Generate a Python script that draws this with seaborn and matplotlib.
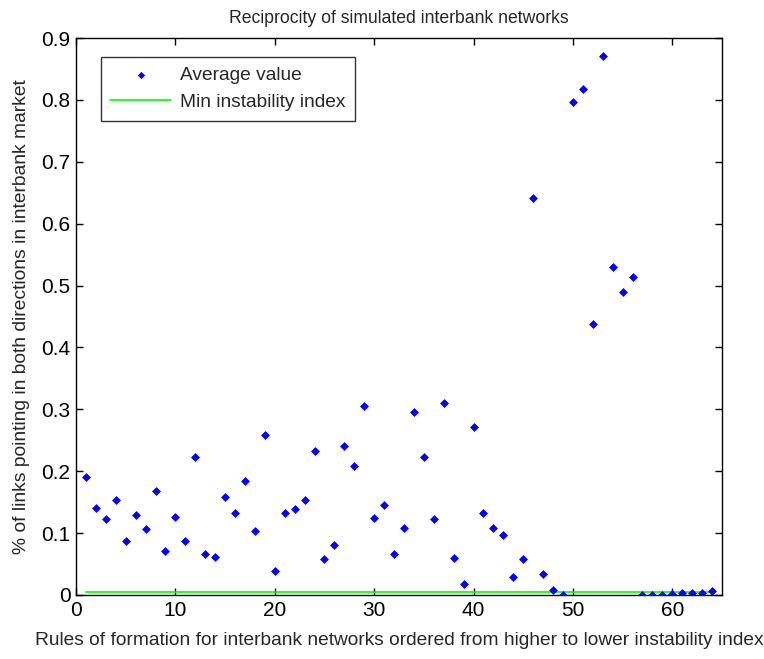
import matplotlib
matplotlib.use("Agg")
import matplotlib.pyplot as plt
import seaborn as sns
import numpy as np
import pandas as pd

rules = list(range(1, 65))
avg_value = [0.190, 0.141, 0.123, 0.154, 0.088, 0.130, 0.106, 0.168, 0.071, 0.126,
             0.088, 0.223, 0.066, 0.062, 0.159, 0.133, 0.185, 0.104, 0.258, 0.038,
             0.133, 0.139, 0.153, 0.232, 0.058, 0.080, 0.241, 0.208, 0.305, 0.124,
             0.146, 0.066, 0.109, 0.296, 0.223, 0.122, 0.311, 0.060, 0.018, 0.271,
             0.133, 0.108, 0.097, 0.029, 0.058, 0.642, 0.034, 0.008, 0.000, 0.796,
             0.817, 0.438, 0.871, 0.530, 0.490, 0.514, 0.000, 0.000, 0.000, 0.001,
             0.003, 0.003, 0.003, 0.006]
min_instability = [0.005] * 64

df = pd.DataFrame({"rule": rules, "avg": avg_value, "min": min_instability})

sns.set_theme(style="ticks")
plt.rcParams['font.family'] = ['Liberation Sans', 'DejaVu Sans']

fig = plt.figure(figsize=(7.64, 6.59), dpi=100)
ax = fig.add_axes([76/764, 1-595/659, (722-76)/764, (595-38)/659])

sns.scatterplot(data=df, x="rule", y="avg", ax=ax, marker="D", s=16,
                color="#0000ff", edgecolor="#0000ff", linewidth=0.5,
                label="Average value", zorder=3)
sns.lineplot(data=df, x="rule", y="min", ax=ax, color="#00ff00", linewidth=1.2,
             label="Min instability index", zorder=2)

ax.set_xlim(0, 65)
ax.set_ylim(0, 0.9)
ax.set_xticks(range(0, 61, 10))
ax.set_yticks(np.round(np.arange(0, 0.91, 0.1), 1))
ax.set_yticklabels(["0" if v == 0 else f"{v:.1f}" for v in np.arange(0, 0.91, 0.1)])
for s in ax.spines.values():
    s.set_visible(True)
    s.set_color("black")
    s.set_linewidth(1.0)
ax.tick_params(direction="in", top=True, right=True, length=5, width=1,
               labelsize=15, colors="black", pad=4)

ax.set_title("Reciprocity of simulated interbank networks", fontsize=12.7, pad=11)
ax.set_xlabel("Rules of formation for interbank networks ordered from higher to lower instability index",
              fontsize=13.8, labelpad=9)
ax.set_ylabel("% of links pointing in both directions in interbank market", fontsize=13.9, labelpad=8)

leg = ax.legend(loc="upper left", bbox_to_anchor=(0.038, 0.966), frameon=True,
                fancybox=False, edgecolor="black", fontsize=13.8, borderaxespad=0,
                handlelength=3.2, handletextpad=0.45, markerscale=0.8, borderpad=0.5)
leg.get_frame().set_linewidth(1.0)

fig.savefig("out.png", dpi=100)
